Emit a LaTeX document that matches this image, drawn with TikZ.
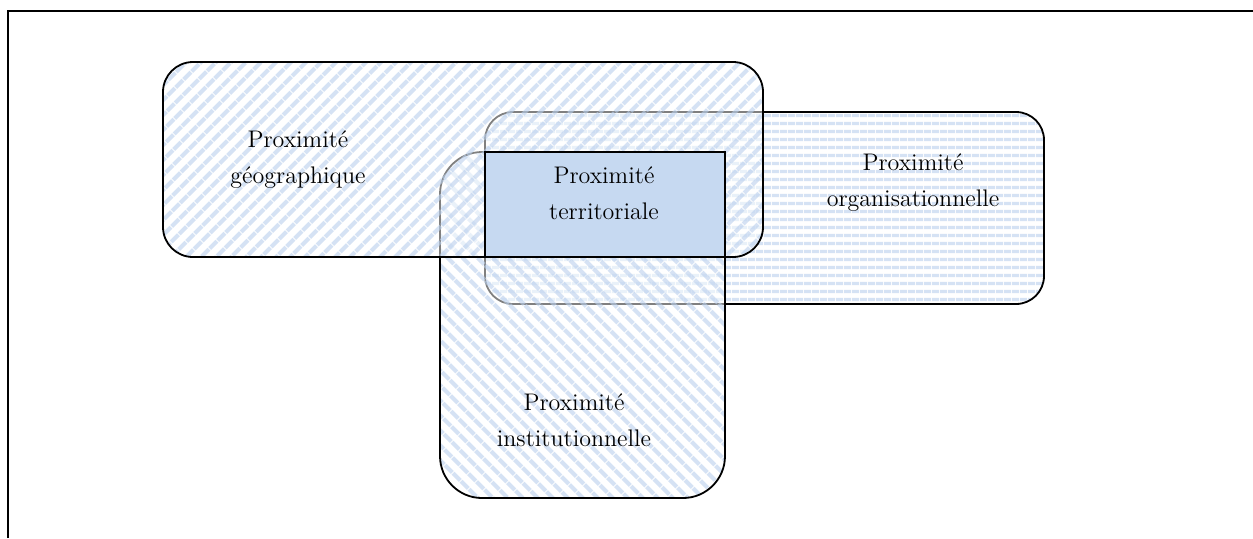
\documentclass[tikz,border=0pt]{standalone}
\usepackage{tikz}
\usetikzlibrary{patterns.meta}
\definecolor{hatchblue}{RGB}{186,208,237}
\definecolor{coreblue}{RGB}{198,217,241}

\begin{document}
\begin{tikzpicture}[
      x=0.5pt, y=-0.5pt,
      zone/.style={rectangle, draw=black, line width=0.9pt, inner sep=0pt,
                   preaction={fill=white, fill opacity=0.5},
                   fill opacity=0.6, draw opacity=1,
                   pattern color=hatchblue},
      zonetext/.style={align=center, anchor=base, inner sep=0pt, text opacity=1,
                       font=\fontsize{12}{18}\selectfont}
    ]
    \useasboundingbox (0,0) rectangle (1253,538);
    % page frame
    \draw[line width=1.2pt] (8,538) -- (8,11) -- (1253,11);
    % the three proximities, back to front
    \node[zone, rounded corners=14pt, minimum width=279.5pt, minimum height=96pt,
          pattern={Lines[angle=0,distance=4pt,line width=1.8pt]}] (org) at (764.5,208) {};
    \node[zone, rounded corners=21pt, minimum width=142.5pt, minimum height=173pt,
          pattern={Lines[angle=-45,distance=5.4pt,line width=2.2pt]}] (inst) at (582.5,325) {};
    \node[zone, rounded corners=15pt, minimum width=300pt, minimum height=97.5pt,
          pattern={Lines[angle=45,distance=5.4pt,line width=2.2pt]}] (geo) at (463,159.5) {};
    \node[rectangle, draw=black, line width=0.9pt, fill=coreblue, inner sep=0pt,
          minimum width=120pt, minimum height=52.5pt] (terr) at (605,204.5) {};
    % labels (base = last line)
    \node[zonetext] (geotext) at (298,183) {Proximité\\géographique};
    \node[zonetext] (orgtext) at (913,206) {Proximité\\organisationnelle};
    \node[zonetext] (insttext) at (574,446) {Proximité\\institutionnelle};
    \node[zonetext] (terrtext) at (604,219) {Proximité\\territoriale};
  \end{tikzpicture}
\end{document}
